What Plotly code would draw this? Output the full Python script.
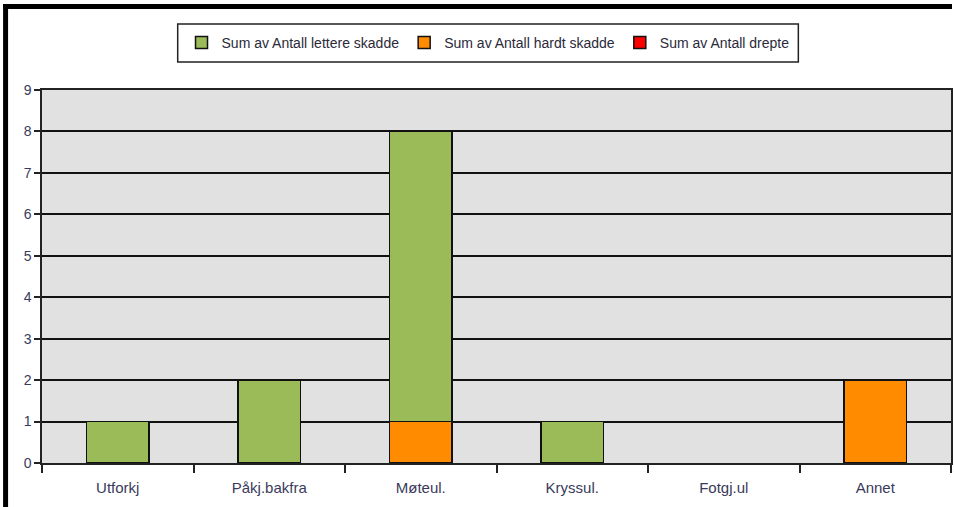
import plotly.graph_objects as go

categories = ["Utforkj", "Påkj.bakfra", "Møteul.", "Kryssul.", "Fotgj.ul", "Annet"]
lettere = [1, 2, 7, 1, 0, 0]
hardt = [0, 0, 1, 0, 0, 2]
drepte = [0, 0, 0, 0, 0, 0]
y_ticks = list(range(0, 10))

def nz(vals):
    return [v if v else None for v in vals]

W, H = 954, 507
L, R, T, B = 42, 1, 90, 44
pw, ph = W - L - R, H - T - B

def px(x):
    return (x - L) / pw

def py(y):
    return (H - B - y) / ph

fig = go.Figure()
fig.add_trace(go.Bar(x=categories, y=nz(hardt), name="Sum av Antall hardt skadde",
                     marker=dict(color="#FF8C00", line=dict(color="#111111", width=1.5)),
                     legendrank=2))
fig.add_trace(go.Bar(x=categories, y=nz(lettere), name="Sum av Antall lettere skadde",
                     marker=dict(color="#9BBB59", line=dict(color="#111111", width=1.5)),
                     legendrank=1))
fig.add_trace(go.Bar(x=categories, y=nz(drepte), name="Sum av Antall drepte",
                     marker=dict(color="#FF0000", line=dict(color="#111111", width=1.5)),
                     legendrank=3, showlegend=True))

fig.update_layout(
    width=W, height=H,
    margin=dict(l=L, r=R, t=T, b=B),
    barmode="stack",
    bargap=0.59,
    paper_bgcolor="white",
    plot_bgcolor="#E1E1E1",
    font=dict(family="Liberation Sans, Arial", size=14, color="#3a3a4a"),
    legend=dict(orientation="h", x=px(489), xanchor="center", y=py(43), yanchor="middle",
                borderwidth=0, bgcolor="rgba(0,0,0,0)",
                font=dict(size=14, color="#2a2a3a"), traceorder="normal",
                itemwidth=30),
    xaxis=dict(type="category", showline=True, linecolor="#222222", linewidth=1.5,
               ticks="outside", ticklen=8, tickcolor="#222222", tickwidth=1.5,
               tickson="boundaries", showgrid=False, mirror=True,
               ticklabelstandoff=10,
               tickfont=dict(size=15, color="#3a3a5a")),
    yaxis=dict(range=[0, 9], tickvals=y_ticks, showline=True, linecolor="#222222",
               linewidth=1.5, ticks="outside", ticklen=6, tickcolor="#222222", tickwidth=1.5,
               showgrid=True, gridcolor="#111111", gridwidth=1.5, zeroline=False,
               mirror=True, tickfont=dict(size=14, color="#3a3a5a")),
    shapes=[
        dict(type="rect", xref="paper", yref="paper", x0=px(178), x1=px(800), y0=py(62), y1=py(24),
             fillcolor="rgba(0,0,0,0)", line=dict(color="#222222", width=1.5), layer="above"),
        dict(type="rect", xref="paper", yref="paper", x0=px(3), x1=px(8), y0=py(4), y1=py(H),
             fillcolor="black", line=dict(width=0), layer="above"),
        dict(type="rect", xref="paper", yref="paper", x0=px(3), x1=px(W), y0=py(9), y1=py(4),
             fillcolor="black", line=dict(width=0), layer="above"),
    ],
)

fig.write_html("out.html", config={"displayModeBar": False},
               post_script="document.body.style.margin='0';")
